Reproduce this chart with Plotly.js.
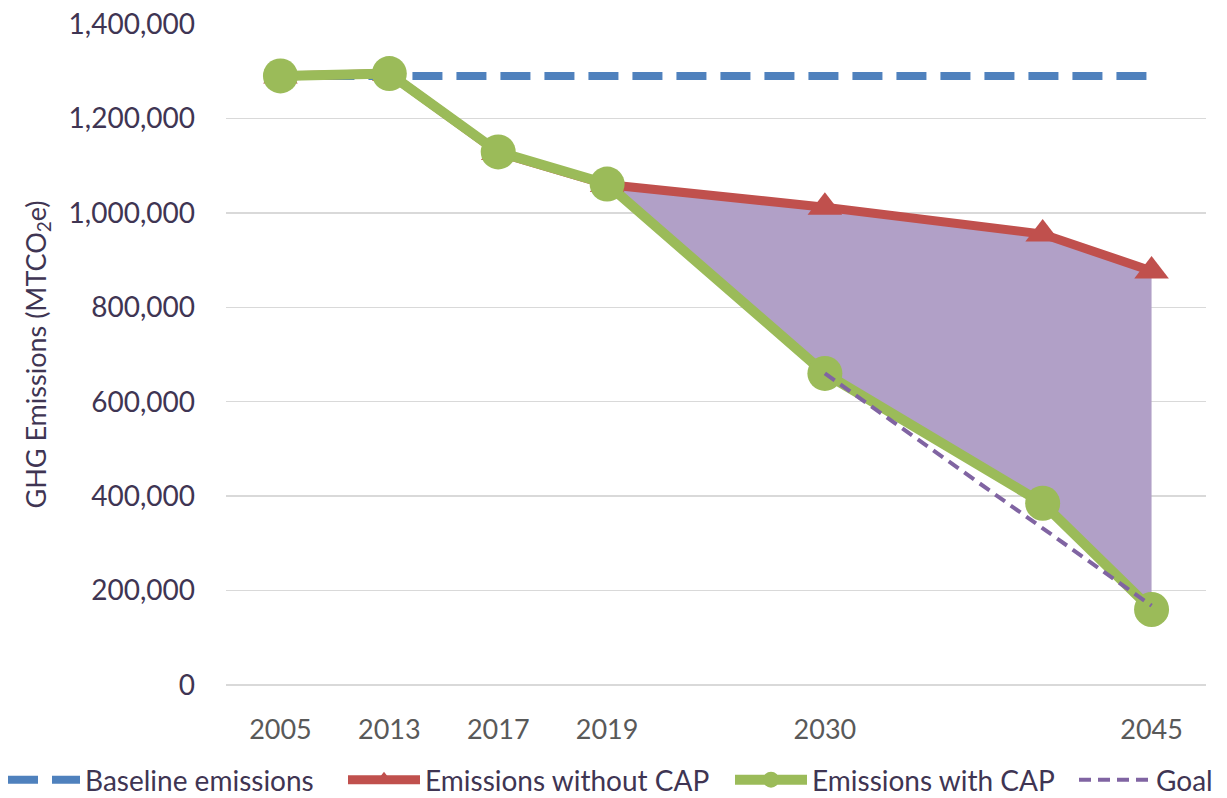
<!DOCTYPE html>
<html>
<head>
<meta charset="utf-8">
<script src="https://cdn.plot.ly/plotly-3.0.1.min.js"></script>
<style>html,body{margin:0;padding:0;background:#fff;}#chart{width:1227px;height:798px;}</style>
</head>
<body>
<div id="chart"></div>
<script>
// Category slots on the axis (Excel-style category axis; some slots carry no label)
const tickPositions = [0, 1, 2, 3, 5, 8];
const tickLabels = ["2005", "2013", "2017", "2019", "2030", "2045"];

// Series (x = category slot, y = MTCO2e)
const baselineX = [0, 1, 2, 3, 5, 7, 8];
const baselineY = [1290000, 1290000, 1290000, 1290000, 1290000, 1290000, 1290000];

const withoutCapX = [0, 1, 2, 3, 5, 7, 8];
const withoutCapY = [1290000, 1295000, 1128000, 1060000, 1012000, 955000, 877000];

const withCapX = [0, 1, 2, 3, 5, 7, 8];
const withCapY = [1290000, 1295000, 1129000, 1061000, 660000, 385000, 160000];

const goalX = [5, 7, 8];
const goalY = [660000, 332000, 168000];

// Reduction area between the two projections (2019 onward)
const areaX = [3, 5, 7, 8];
const areaTop = [1060000, 1012000, 955000, 877000];
const areaBottom = [1061000, 660000, 385000, 160000];

const textColor = "#3f3553";
const fontFam = "Lato, 'Open Sans', sans-serif";

const traces = [
  {x: areaX, y: areaTop, type: "scatter", mode: "lines", line: {width: 0, color: "rgba(0,0,0,0)"}, showlegend: false, hoverinfo: "skip"},
  {x: areaX, y: areaBottom, type: "scatter", mode: "lines", fill: "tonexty", fillcolor: "#b1a0c7", line: {width: 0, color: "rgba(0,0,0,0)"}, showlegend: false, hoverinfo: "skip"},
  {x: baselineX, y: baselineY, name: "Baseline emissions", type: "scatter", mode: "lines", legend: "legend",
   line: {color: "#4f81bd", width: 8, dash: "30px,14px"}},
  {x: withoutCapX, y: withoutCapY, name: "Emissions without CAP", type: "scatter", mode: "lines+markers", legend: "legend2",
   line: {color: "#c0504d", width: 9}, marker: {symbol: "triangle-up", size: 30, color: "#c0504d"}},
  {x: withCapX, y: withCapY, name: "Emissions with CAP", type: "scatter", mode: "lines+markers", legend: "legend3",
   line: {color: "#9bbb59", width: 10}, marker: {symbol: "circle", size: 35, color: "#9bbb59"}},
  {x: goalX, y: goalY, name: "Goal", type: "scatter", mode: "lines", legend: "legend4",
   line: {color: "#8064a2", width: 4, dash: "12px,7px"}}
];

function legendAt(px) {
  return {orientation: "h", xref: "container", yref: "container",
          x: px / 1227, xanchor: "left", y: 1 - 780 / 798, yanchor: "middle",
          font: {family: fontFam, size: 28, color: textColor}, itemwidth: 72,
          bgcolor: "rgba(0,0,0,0)", borderwidth: 0};
}

const layout = {
  width: 1227, height: 798,
  paper_bgcolor: "#ffffff", plot_bgcolor: "#ffffff",
  margin: {l: 226, r: 21, t: 24, b: 113},
  font: {family: fontFam, size: 26, color: textColor},
  showlegend: true,
  legend: legendAt(3),
  legend2: legendAt(343),
  legend3: legendAt(730),
  legend4: legendAt(1074),
  xaxis: {
    range: [-0.5, 8.5], tickmode: "array", tickvals: tickPositions, ticktext: tickLabels,
    showgrid: false, zeroline: false, showline: false, ticks: "",
    tickfont: {family: fontFam, size: 27, color: "#595959"}, ticklabelstandoff: 26
  },
  yaxis: {
    range: [0, 1400000], dtick: 200000, tickformat: ",d",
    showgrid: true, gridcolor: "#d9d9d9", gridwidth: 1.5,
    zeroline: true, zerolinecolor: "#d9d9d9", zerolinewidth: 1.5, showline: false, ticks: "",
    tickfont: {family: fontFam, size: 28, color: textColor}, ticklabelstandoff: 30,
    title: {text: "GHG Emissions (MTCO<sub>2</sub>e)", font: {family: fontFam, size: 27, color: textColor}, standoff: 14}
  }
};

Plotly.newPlot("chart", traces, layout, {displayModeBar: false, staticPlot: true});
</script>
</body>
</html>
